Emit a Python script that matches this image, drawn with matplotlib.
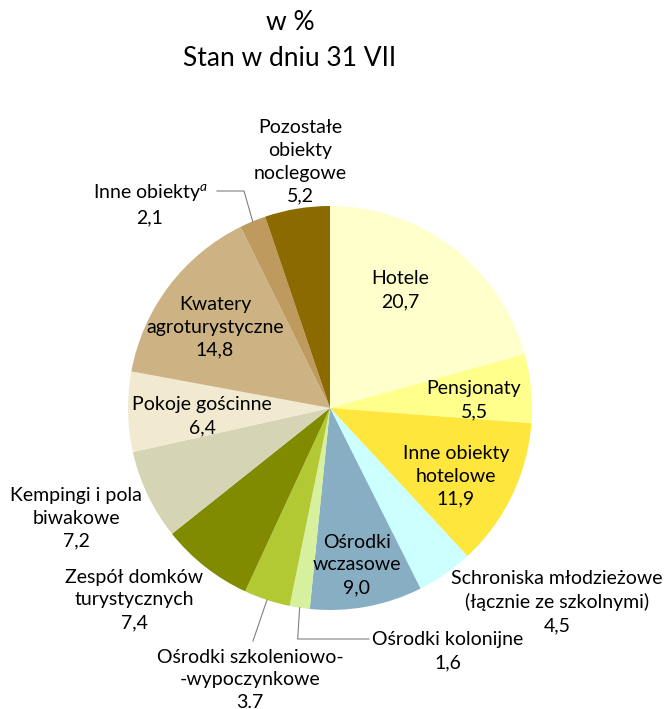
import numpy as np
import matplotlib
matplotlib.use("Agg")
import matplotlib.pyplot as plt

categories = ["Hotele", "Pensjonaty", "Inne obiekty\nhotelowe",
              "Schroniska młodzieżowe\n(łącznie ze szkolnymi)",
              "Ośrodki\nwczasowe", "Ośrodki kolonijne",
              "Ośrodki szkoleniowo-\n-wypoczynkowe",
              "Zespół domków\nturystycznych", "Kempingi i pola\nbiwakowe",
              "Pokoje gościnne", "Kwatery\nagroturystyczne",
              "Inne obiekty$^{a}$", "Pozostałe\nobiekty\nnoclegowe"]
values = [20.7, 5.5, 11.9, 4.5, 9.0, 1.6, 3.7, 7.4, 7.2, 6.4, 14.8, 2.1, 5.2]
value_labels = ["20,7", "5,5", "11,9", "4,5", "9,0", "1,6", "3.7", "7,4",
                "7,2", "6,4", "14,8", "2,1", "5,2"]
colors = ["#FFFFCC", "#FFFF8C", "#FFE63C", "#CCFFFF", "#87AEC3", "#D6F09E",
          "#B3C934", "#808B00", "#D5D5B6", "#F2EAD0", "#CDB384", "#BF9A5E",
          "#8B6B00"]

# label block centres (pixels, from top-left)
label_pos = [(400, 290), (474, 400), (456, 476), (557, 602), (357, 565),
             (448, 651), (250, 680), (134, 600), (76, 518), (202, 416),
             (215, 327), (150, 204), (300, 162)]

W, H = 664, 709
plt.rcParams['font.family'] = ['Lato', 'DejaVu Sans']
plt.rcParams['mathtext.fontset'] = 'custom'
plt.rcParams['mathtext.it'] = 'Lato:italic'
plt.rcParams['mathtext.rm'] = 'Lato'

fig = plt.figure(figsize=(W / 100, H / 100), dpi=100)
ax = fig.add_axes([0, 0, 1, 1])

cx, cy, R = 330, H - 408, 202
wedges, _ = ax.pie(values, colors=colors, startangle=90, counterclock=False,
                   center=(cx, cy), radius=R, frame=True,
                   wedgeprops=dict(linewidth=0))
ax.set_xlim(0, W)
ax.set_ylim(0, H)
ax.set_aspect('equal')
ax.axis('off')

fs = 14
for cat, vl, (x, y) in zip(categories, value_labels, label_pos):
    txt = cat.replace("$^{a}$", "$^{\\mathit{a}}$") + "\n" + vl
    ax.text(x, H - y, txt, ha='center', va='center', multialignment='center',
            fontsize=fs, linespacing=1.42, color='black')

def edge_point(i):
    w = wedges[i]
    th = np.deg2rad((w.theta1 + w.theta2) / 2)
    return cx + R * np.cos(th), cy + R * np.sin(th)

lc = '#808080'
# Inne obiekty
ex, ey = edge_point(11)
ax.plot([217, 244, ex], [H - 191, H - 191, ey], color=lc, lw=0.8)
# Ośrodki szkoleniowo-wypoczynkowe
ex, ey = edge_point(6)
ax.plot([253, ex], [H - 641, ey], color=lc, lw=0.8)
# Ośrodki kolonijne
ex, ey = edge_point(5)
ax.plot([369, ex - 2, ex], [H - 639, H - 639, ey], color=lc, lw=0.8)

fig.text(290 / W, 1 - 22 / H, "w %", ha='center', va='center', fontsize=19)
fig.text(290 / W, 1 - 58 / H, "Stan w dniu 31 VII", ha='center', va='center',
         fontsize=19)

fig.savefig("out.png", dpi=100)
